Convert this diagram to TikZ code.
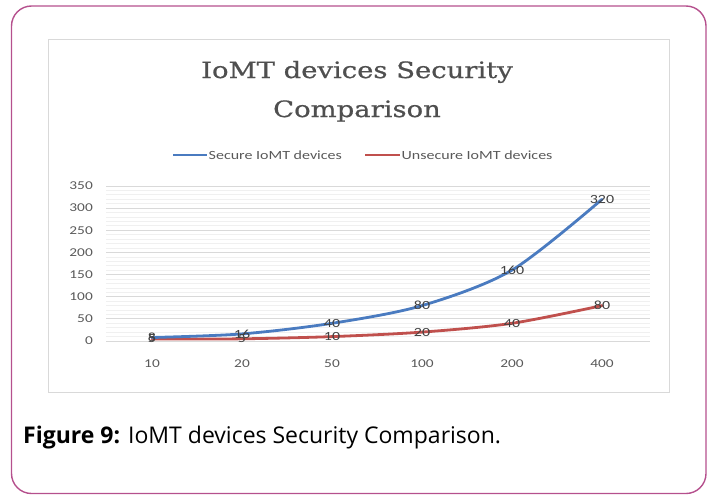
\documentclass[tikz,border=0pt]{standalone}
\usepackage{fontspec}
\setmainfont{Open Sans}
\newfontfamily\titlefont[FakeStretch=1.22,FakeBold=0.7]{DejaVu Serif}
\newfontfamily\chartfont[FakeStretch=1.28]{Carlito}

\definecolor{panelborder}{HTML}{B5508D}
\definecolor{chartborder}{HTML}{D9D9D9}
\definecolor{majorgrid}{HTML}{D9D9D9}
\definecolor{minorgrid}{HTML}{F0F0F0}
\definecolor{securecol}{HTML}{4A7BC0}
\definecolor{unsecurecol}{HTML}{C0504D}
\definecolor{charttext}{HTML}{595959}
\definecolor{titlecol}{HTML}{4F4F4F}
\definecolor{labeltext}{HTML}{404040}

\tikzset{
  panel/.style={draw=panelborder, line width=1.4pt, rounded corners=20pt},
  chartbox/.style={draw=chartborder, line width=1pt},
  gridmajor/.style={draw=majorgrid, line width=0.9pt},
  gridminor/.style={draw=minorgrid, line width=0.7pt},
  titletext/.style={text=titlecol, font=\titlefont\fontsize{22.5}{27}\selectfont, inner sep=0pt, anchor=base},
  legendtext/.style={text=charttext, font=\chartfont\fontsize{12.5}{15}\selectfont, inner sep=0pt, anchor=west},
  ticktext/.style={text=charttext, font=\chartfont\fontsize{12}{14}\selectfont, inner sep=0pt},
  valtext/.style={text=labeltext, font=\chartfont\fontsize{12.5}{14}\selectfont, inner sep=0pt},
  series/.style={line width=2.8pt, line cap=round, line join=round},
  legendline/.style={line width=2pt},
}

\begin{document}
\begin{tikzpicture}[x=1pt,y=-1pt]
\useasboundingbox (0,0) rectangle (711,495);

% outer panel and chart area
\draw[panel] (11.5,6) rectangle (706,493.5);
\draw[chartbox] (48,40) rectangle (669,392);

% title
\node[titletext] (title1) at (357,78) {IoMT devices Security};
\node[titletext] (title2) at (357,117) {Comparison};

% legend
\coordinate (lgA1) at (173,155);
\coordinate (lgA2) at (207,155);
\draw[legendline, securecol] (lgA1) -- (lgA2);
\node[legendtext] (lgAtext) at (208.5,155) {Secure IoMT devices};
\coordinate (lgB1) at (365,155);
\coordinate (lgB2) at (400,155);
\draw[legendline, unsecurecol] (lgB1) -- (lgB2);
\node[legendtext] (lgBtext) at (401.5,155) {Unsecure IoMT devices};

% value axis: 0 at y=341, 0.4429 px per unit
\foreach \v in {10,20,30,40,60,70,80,90,110,120,130,140,160,170,180,190,210,220,230,240,260,270,280,290,310,320,330,340}
  \draw[gridminor] (106,{341-\v*0.4429}) -- (650,{341-\v*0.4429});
\foreach \v in {0,50,...,350}{
  \draw[gridmajor] (106,{341-\v*0.4429}) -- (650,{341-\v*0.4429});
  \node[ticktext, anchor=east] (ytick\v) at (93,{341-\v*0.4429}) {\v};
}

% category axis
\foreach \c [count=\i from 0] in {10,20,50,100,200,400}
  \node[ticktext] (xtick\i) at ({152+90*\i},364) {\c};

% data points
\coordinate (s0) at (152,337.5);
\coordinate (s1) at (242,333.9);
\coordinate (s2) at (332,323.3);
\coordinate (s3) at (422,305.6);
\coordinate (s4) at (512,270.1);
\coordinate (s5) at (602,199.3);
\coordinate (u0) at (152,339.0);
\coordinate (u1) at (242,338.8);
\coordinate (u2) at (332,336.6);
\coordinate (u3) at (422,332.1);
\coordinate (u4) at (512,323.3);
\coordinate (u5) at (602,305.6);

% series lines
\draw[series, unsecurecol] plot[smooth, tension=0.5] coordinates {(u0) (u1) (u2) (u3) (u4) (u5)};
\draw[series, securecol] plot[smooth, tension=0.5] coordinates {(s0) (s1) (s2) (s3) (s4) (s5)};

% data labels
\node[valtext] (ls0) at (s0) {8};
\node[valtext] (ls1) at (s1) {16};
\node[valtext] (ls2) at (s2) {40};
\node[valtext] (ls3) at (s3) {80};
\node[valtext] (ls4) at (s4) {160};
\node[valtext] (ls5) at (s5) {320};
\node[valtext] (lu0) at (u0) {5};
\node[valtext] (lu1) at (u1) {5};
\node[valtext] (lu2) at (u2) {10};
\node[valtext] (lu3) at (u3) {20};
\node[valtext] (lu4) at (u4) {40};
\node[valtext] (lu5) at (u5) {80};

% caption
\node[anchor=base west, inner sep=0pt, font=\fontsize{23}{27}\selectfont] (caption) at (23,443)
  {\textbf{Figure 9:} IoMT devices Security Comparison.};
\end{tikzpicture}
\end{document}
